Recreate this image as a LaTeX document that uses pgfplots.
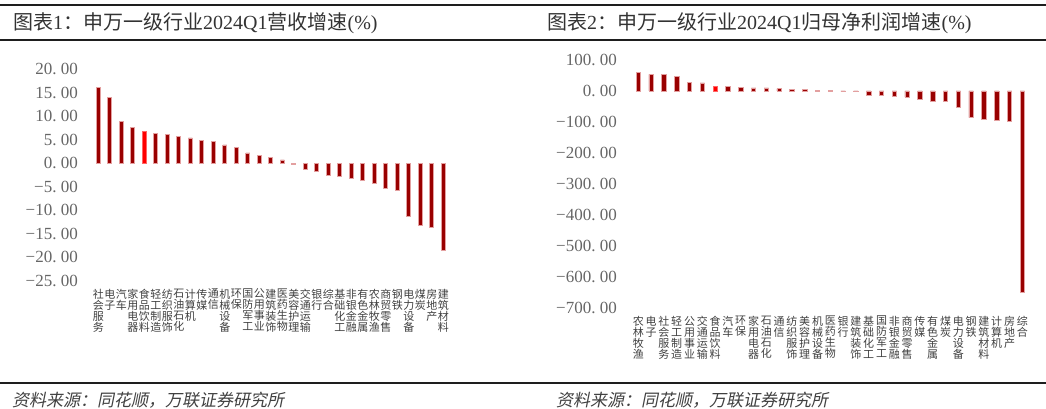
\documentclass[border=0pt]{standalone}
\usepackage{pgfplots}
\pgfplotsset{compat=1.18}
\usepackage{fontspec}
\setmainfont{Liberation Serif}
\newfontfamily\cjk{Noto Sans CJK SC}
\newfontfamily\cjkit[FakeSlant=0.2]{Noto Sans CJK SC}
\definecolor{barred}{HTML}{990000}
\definecolor{barborder}{HTML}{E3A0A0}
\definecolor{hired}{HTML}{FF0000}
\definecolor{tickgray}{HTML}{666666}
\definecolor{labgray}{HTML}{404040}
\definecolor{titlegray}{HTML}{333333}
\definecolor{rulecol}{HTML}{1E1E1E}
\begin{document}
\begin{tikzpicture}[x=1pt,y=1pt]
\useasboundingbox (0,0) rectangle (1046,409);
% rules
\draw[line width=2.5pt, rulecol] (0,404) -- (1046,404);
\draw[line width=2.5pt, rulecol] (0,369) -- (1046,369);
\draw[line width=2.5pt, rulecol] (0,26) -- (1046,26);
% titles
\node[anchor=west, inner sep=0pt, text=titlegray, font=\fontsize{20}{20}\selectfont] at (13,386)
  {{\cjk 图表}1{\cjk ：申万一级行业}2024Q1{\cjk 营收增速}(\%)};
\node[anchor=west, inner sep=0pt, text=titlegray, font=\fontsize{20}{20}\selectfont] at (547,386)
  {{\cjk 图表}2{\cjk ：申万一级行业}2024Q1{\cjk 归母净利润增速}(\%)};
% footers
\node[anchor=west, inner sep=0pt, text=labgray, font=\cjkit\fontsize{17}{17}\selectfont] at (12,9) {资料来源：同花顺，万联证券研究所};
\node[anchor=west, inner sep=0pt, text=labgray, font=\cjkit\fontsize{17}{17}\selectfont] at (556,9) {资料来源：同花顺，万联证券研究所};

% ---------- left chart ----------
\begin{axis}[
  at={(86.8pt,128.3pt)}, anchor=south west,
  scale only axis, width=368pt, height=211.4pt,
  xmin=-1, xmax=31, ymin=-25, ymax=20,
  axis line style={draw=none}, major tick length=0pt,
  ytick={-25,-20,...,20},
  yticklabels={−25.\hspace{0.25em}00,−20.\hspace{0.25em}00,−15.\hspace{0.25em}00,−10.\hspace{0.25em}00,−5.\hspace{0.25em}00,0.\hspace{0.25em}00,5.\hspace{0.25em}00,10.\hspace{0.25em}00,15.\hspace{0.25em}00,20.\hspace{0.25em}00},
  yticklabel style={font=\fontsize{17}{17}\selectfont, text=tickgray, anchor=east, inner sep=0pt, xshift=-8.8pt},
  xtick={0,...,30},
  xticklabels={{社\\会\\服\\务},{电\\子},{汽\\车},{家\\用\\电\\器},{食\\品\\饮\\料},{轻\\工\\制\\造},{纺\\织\\服\\饰},{石\\油\\石\\化},{计\\算\\机},{传\\媒},{通\\信},{机\\械\\设\\备},{环\\保},{国\\防\\军\\工},{公\\用\\事\\业},{建\\筑\\装\\饰},{医\\药\\生\\物},{美\\容\\护\\理},{交\\通\\运\\输},{银\\行},{综\\合},{基\\础\\化\\工},{非\\银\\金\\融},{有\\色\\金\\属},{农\\林\\牧\\渔},{商\\贸\\零\\售},{钢\\铁},{电\\力\\设\\备},{煤\\炭},{房\\地\\产},{建\\筑\\材\\料}},
  xticklabel style={font=\cjk\fontsize{11}{11}\selectfont, text=labgray, align=center, anchor=north, inner sep=0pt, yshift=-8pt},
  clip=false,
]
\addplot[ybar, bar shift=0pt, bar width=4pt, fill=barred, draw=barborder, line width=0.7pt] coordinates {
(0,16.1) (1,14.0) (2,8.9) (3,7.6) (5,6.4) (6,6.1) (7,5.8) (8,5.4) (9,4.9) (10,4.6)
(11,3.9) (12,3.3) (13,2.2) (14,1.6) (15,1.2) (16,0.7) (17,-0.3) (18,-1.4) (19,-1.7) (20,-2.6)
(21,-2.7) (22,-3.3) (23,-3.6) (24,-4.3) (25,-5.3) (26,-5.8) (27,-11.3) (28,-13.3) (29,-13.7) (30,-18.6)
};
\addplot[ybar, bar shift=0pt, bar width=4pt, fill=hired, draw=hired!60, line width=0.7pt] coordinates {(4,6.8)};
\end{axis}

% ---------- right chart ----------
\begin{axis}[
  at={(625.5pt,101pt)}, anchor=south west,
  scale only axis, width=409.6pt, height=248pt,
  xmin=-1, xmax=31, ymin=-700, ymax=100,
  axis line style={draw=none}, major tick length=0pt,
  ytick={-700,-600,...,100},
  yticklabels={−700.\hspace{0.25em}00,−600.\hspace{0.25em}00,−500.\hspace{0.25em}00,−400.\hspace{0.25em}00,−300.\hspace{0.25em}00,−200.\hspace{0.25em}00,−100.\hspace{0.25em}00,0.\hspace{0.25em}00,100.\hspace{0.25em}00},
  yticklabel style={font=\fontsize{17}{17}\selectfont, text=tickgray, anchor=east, inner sep=0pt, xshift=-8.5pt},
  xtick={0,...,30},
  xticklabels={{农\\林\\牧\\渔},{电\\子},{社\\会\\服\\务},{轻\\工\\制\\造},{公\\用\\事\\业},{交\\通\\运\\输},{食\\品\\饮\\料},{汽\\车},{环\\保},{家\\用\\电\\器},{石\\油\\石\\化},{通\\信},{纺\\织\\服\\饰},{美\\容\\护\\理},{机\\械\\设\\备},{医\\药\\生\\物},{银\\行},{建\\筑\\装\\饰},{基\\础\\化\\工},{国\\防\\军\\工},{非\\银\\金\\融},{商\\贸\\零\\售},{传\\媒},{有\\色\\金\\属},{煤\\炭},{电\\力\\设\\备},{钢\\铁},{建\\筑\\材\\料},{计\\算\\机},{房\\地\\产},{综\\合}},
  xticklabel style={font=\cjk\fontsize{11}{11}\selectfont, text=labgray, align=center, anchor=north, inner sep=0pt, yshift=-8pt},
  clip=false,
]
\addplot[ybar, bar shift=0pt, bar width=4.5pt, fill=barred, draw=barborder, line width=0.7pt] coordinates {
(0,60) (1,54) (2,54) (3,48) (4,28) (5,26) (7,15) (8,12) (9,10) (10,10)
(11,7.5) (12,6) (13,5) (14,3) (15,1) (16,-1) (17,-2) (18,-13) (19,-13) (20,-16)
(21,-20) (22,-28) (23,-32) (24,-35) (25,-54) (26,-86) (27,-90) (28,-94) (29,-97) (30,-648)
};
\addplot[ybar, bar shift=0pt, bar width=4.5pt, fill=hired, draw=hired!60, line width=0.7pt] coordinates {(6,16)};
\end{axis}
\end{tikzpicture}
\end{document}
